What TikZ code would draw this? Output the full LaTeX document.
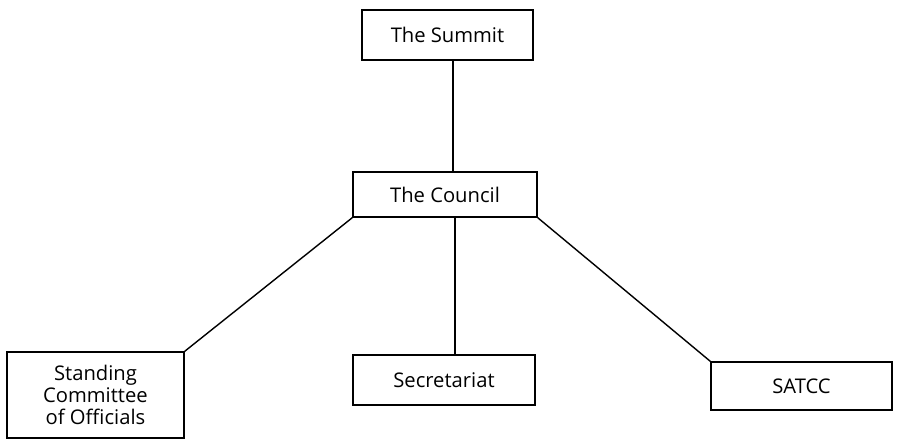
\documentclass[tikz,border=0pt]{standalone}
\usepackage{fontspec}
\setmainfont{Open Sans}
\usetikzlibrary{positioning}

\begin{document}
\begin{tikzpicture}[
  unit/.style={draw,line width=0.8pt,fill=white,align=center,font=\fontsize{11.5}{12.5}\selectfont,inner sep=2pt},
  link/.style={line width=0.8pt}
]
\useasboundingbox (0,0) rectangle (17.98,8.86);
\node[unit,minimum width=3.42cm,minimum height=1.00cm] (summit) at (8.95,8.16) {The Summit};
\node[unit,minimum width=3.68cm,minimum height=0.90cm] (council) at (8.90,4.97) {The Council};
\node[unit,minimum width=3.54cm,minimum height=1.72cm] (standing) at (1.91,0.96) {Standing\\Committee\\of Officials};
\node[unit,minimum width=3.64cm,minimum height=1.00cm] (secretariat) at (8.88,1.26) {Secretariat};
\node[unit,minimum width=3.62cm,minimum height=0.96cm] (satcc) at (16.03,1.14) {SATCC};
% links below the council
\draw[link] ([xshift=0.11cm]summit.south) -- ([xshift=0.11cm]summit.south |- council.north);
\draw[link] ([xshift=0.20cm]council.south) -- ([xshift=0.20cm]council.south |- secretariat.north);
\draw[link] (council.south west) -- (standing.north east);
\draw[link] (council.south east) -- (satcc.north west);
\end{tikzpicture}
\end{document}
